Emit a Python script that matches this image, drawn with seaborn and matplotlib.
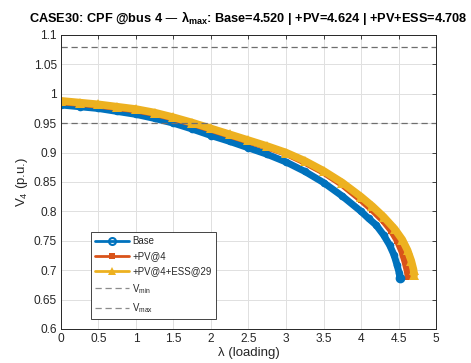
import numpy as np
import matplotlib
matplotlib.use("Agg")
import matplotlib.pyplot as plt
from matplotlib.lines import Line2D
from matplotlib.ticker import FuncFormatter, MultipleLocator
import seaborn as sns

# CPF curves (lambda, V4)
lam_base = [0, 0.25, 0.5, 0.75, 1.0, 1.25, 1.5, 1.75, 2.0, 2.25, 2.5, 2.75, 3.0,
            3.25, 3.5, 3.75, 4.0, 4.1, 4.2, 4.3, 4.38, 4.44, 4.48, 4.51, 4.52]
v_base = [0.981, 0.978, 0.975, 0.970, 0.965, 0.958, 0.950, 0.940, 0.929, 0.919,
          0.908, 0.897, 0.884, 0.868, 0.849, 0.826, 0.800, 0.788, 0.777, 0.760,
          0.743, 0.726, 0.709, 0.695, 0.686]

lam_pv = [0, 0.25, 0.5, 0.75, 1.0, 1.25, 1.5, 1.75, 2.0, 2.25, 2.5, 2.75, 3.0,
          3.25, 3.5, 3.75, 4.0, 4.15, 4.3, 4.4, 4.48, 4.54, 4.58, 4.61, 4.624]
v_pv = [0.986, 0.983, 0.980, 0.976, 0.972, 0.966, 0.958, 0.949, 0.939, 0.929,
        0.919, 0.909, 0.898, 0.883, 0.866, 0.845, 0.819, 0.802, 0.783, 0.767,
        0.750, 0.732, 0.715, 0.700, 0.689]

lam_ess = [0, 0.25, 0.5, 0.75, 1.0, 1.25, 1.5, 1.75, 2.0, 2.25, 2.5, 2.75, 3.0,
           3.25, 3.5, 3.75, 4.0, 4.15, 4.3, 4.45, 4.55, 4.62, 4.67, 4.70, 4.708]
v_ess = [0.988, 0.985, 0.982, 0.978, 0.974, 0.968, 0.960, 0.951, 0.941, 0.931,
         0.921, 0.911, 0.900, 0.886, 0.869, 0.849, 0.825, 0.809, 0.791, 0.770,
         0.752, 0.734, 0.716, 0.701, 0.692]

lam_max = {"Base": 4.520, "+PV": 4.624, "+PV+ESS": 4.708}
v_min, v_max = 0.95, 1.08

c_blue = "#0072BD"
c_orange = "#D95319"
c_yellow = "#EDB120"
c_text = "#262626"

sns.set_theme(style="white")
plt.rcParams["font.family"] = ["Liberation Sans", "DejaVu Sans"]
plt.rcParams["mathtext.default"] = "regular"

fig = plt.figure(figsize=(4.71, 3.63), dpi=100)
ax = fig.add_axes([0.1295, 0.0937, 0.7962, 0.8099])

sns.lineplot(x=lam_base, y=v_base, ax=ax, color=c_blue, lw=5, marker="o",
             markersize=5.5, markeredgewidth=0, sort=False, estimator=None)
sns.lineplot(x=lam_pv, y=v_pv, ax=ax, color=c_orange, lw=4.5, marker="s",
             markersize=4.5, markeredgewidth=0, sort=False, estimator=None)
sns.lineplot(x=lam_ess, y=v_ess, ax=ax, color=c_yellow, lw=5.5, marker="^",
             markersize=7, markeredgewidth=0, sort=False, estimator=None)
# end dot of the base curve
ax.plot(lam_base[-1], v_base[-1], "o", color=c_blue, ms=6)

ax.axhline(v_min, color="#6e6e6e", lw=0.9, ls=(0, (5, 3)))
ax.axhline(v_max, color="#6e6e6e", lw=0.9, ls=(0, (5, 3)))

ax.set_xlim(0, 5)
ax.set_ylim(0.6, 1.1)
ax.xaxis.set_major_locator(MultipleLocator(0.5))
ax.yaxis.set_major_locator(MultipleLocator(0.05))
fmt = FuncFormatter(lambda v, p: "%g" % round(v, 3))
ax.xaxis.set_major_formatter(fmt)
ax.yaxis.set_major_formatter(fmt)
ax.grid(True, color="#e0e0e0", lw=0.7)
ax.set_axisbelow(True)
for s in ax.spines.values():
    s.set_color(c_text)
    s.set_linewidth(0.7)
ax.tick_params(direction="in", length=3, width=0.6, colors=c_text,
               labelsize=8.6, top=True, right=True, pad=3)

ax.set_xlabel("λ (loading)", fontsize=9.5, color=c_text, labelpad=1)
ax.set_ylabel("V$_4$ (p.u.)", fontsize=9.5, color=c_text, labelpad=3)

title = ("CASE30: CPF @bus 4 — λ$_{max}$: Base=%.3f | +PV=%.3f | +PV+ESS=%.3f"
         % (lam_max["Base"], lam_max["+PV"], lam_max["+PV+ESS"]))
ax.set_title(title, fontsize=9.2, fontweight="bold", color="black", pad=9)

handles = [
    Line2D([], [], color=c_blue, lw=2, marker="o", ms=5, mfc="none", mew=1.5),
    Line2D([], [], color=c_orange, lw=2, marker="s", ms=4, mew=0),
    Line2D([], [], color=c_yellow, lw=2, marker="^", ms=6, mew=0),
    Line2D([], [], color="#8c8c8c", lw=0.9, ls=(0, (5, 3))),
    Line2D([], [], color="#8c8c8c", lw=0.9, ls=(0, (5, 3))),
]
labels = ["Base", "+PV@4", "+PV@4+ESS@29", "V$_{min}$", "V$_{max}$"]
leg = ax.legend(handles, labels, loc="lower left", bbox_to_anchor=(0.08, 0.034),
                fontsize=6.9, handlelength=3.5, handletextpad=0.35,
                labelspacing=0.55, borderpad=0.45, borderaxespad=0,
                fancybox=False, framealpha=1, edgecolor="#262626")
leg.get_frame().set_linewidth(0.6)

fig.savefig("out.png", dpi=100)
